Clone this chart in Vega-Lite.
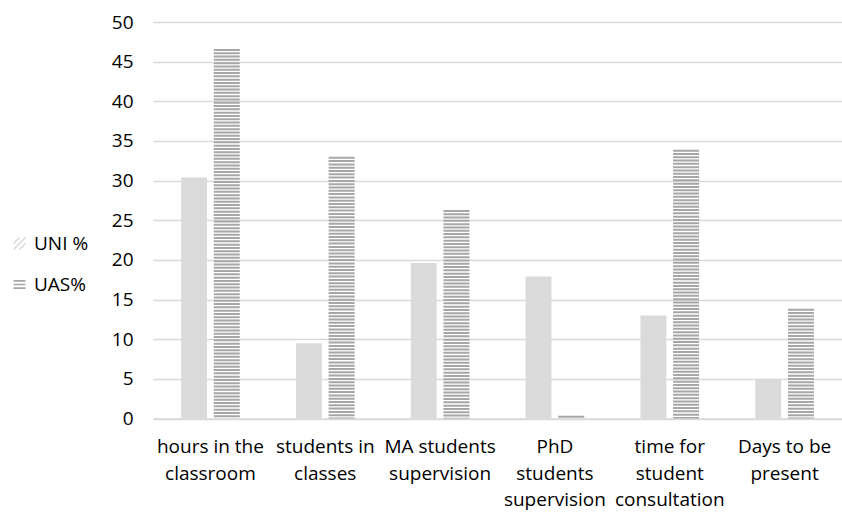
{
  "$schema": "https://vega.github.io/schema/vega-lite/v6.json",
  "autosize": {"type": "none"},
  "width": 689,
  "height": 396.5,
  "padding": {"left": 153, "top": 22, "right": 0, "bottom": 93.5},
  "config": {"view": {"stroke": null}, "font": "Open Sans"},
  "data": {
    "values": [
      {"category": "hours in the classroom", "series": "UNI %", "value": 30.4},
      {"category": "hours in the classroom", "series": "UAS%", "value": 46.6},
      {"category": "students in classes", "series": "UNI %", "value": 9.5},
      {"category": "students in classes", "series": "UAS%", "value": 33.0},
      {"category": "MA students supervision", "series": "UNI %", "value": 19.6},
      {"category": "MA students supervision", "series": "UAS%", "value": 26.3},
      {"category": "PhD students supervision", "series": "UNI %", "value": 17.9},
      {"category": "PhD students supervision", "series": "UAS%", "value": 0.35},
      {"category": "time for student consultation", "series": "UNI %", "value": 13.0},
      {"category": "time for student consultation", "series": "UAS%", "value": 33.9},
      {"category": "Days to be present", "series": "UNI %", "value": 5.0},
      {"category": "Days to be present", "series": "UAS%", "value": 13.85}
    ]
  },
  "encoding": {
    "x": {
      "field": "category",
      "type": "nominal",
      "sort": ["hours in the classroom", "students in classes", "MA students supervision", "PhD students supervision", "time for student consultation", "Days to be present"],
      "scale": {"paddingInner": 0.49, "paddingOuter": 0.245},
      "axis": {
        "title": null,
        "labelAngle": 0,
        "labelFontSize": 19,
        "labelColor": "#000000",
        "labelLineHeight": 26.5,
        "labelPadding": 19,
        "labelLimit": 0,
        "labelOverlap": false,
        "labelBound": false,
        "ticks": false,
        "tickSize": 0,
        "domainColor": "#d9d9d9",
        "domainWidth": 1.3,
        "labelExpr": "datum.value == 'hours in the classroom' ? ['hours in the','classroom'] : datum.value == 'students in classes' ? ['students in','classes'] : datum.value == 'MA students supervision' ? ['MA students','supervision'] : datum.value == 'PhD students supervision' ? ['PhD','students','supervision'] : datum.value == 'time for student consultation' ? ['time for','student','consultation'] : ['Days to be','present']"
      }
    },
    "xOffset": {
      "field": "series",
      "type": "nominal",
      "sort": ["UNI %", "UAS%"],
      "scale": {"paddingInner": 0.21, "paddingOuter": 0}
    },
    "y": {
      "field": "value",
      "type": "quantitative",
      "scale": {"domain": [0, 50], "nice": false},
      "axis": {
        "title": null,
        "values": [0, 5, 10, 15, 20, 25, 30, 35, 40, 45, 50],
        "labelFontSize": 19,
        "labelColor": "#000000",
        "labelPadding": 20,
        "ticks": false,
        "tickSize": 0,
        "domain": false,
        "gridColor": "#d9d9d9",
        "gridWidth": 1.3
      }
    },
    "color": {
      "field": "series",
      "type": "nominal",
      "sort": ["UNI %", "UAS%"],
      "scale": {"domain": ["UNI %", "UAS%"], "range": ["#dadada", "#a6a6a6"]},
      "legend": {
        "title": null,
        "orient": "none",
        "legendX": -143,
        "legendY": 212,
        "padding": 0,
        "labelFontSize": 19,
        "labelColor": "#000000",
        "labelOffset": 5,
        "rowPadding": 21,
        "symbolSize": 144,
        "encode": {
          "symbols": {
            "update": {
              "shape": {"signal": "datum.value === 'UNI %' ? 'M-1,0L0,-1M-1,1L1,-1M0,1L1,0' : 'M-1,-0.6L1,-0.6M-1,0L1,0M-1,0.6L1,0.6'"},
              "fill": {"value": "transparent"},
              "stroke": {"value": "#a6a6a6"},
              "strokeWidth": {"value": 1.6},
              "strokeDash": {"value": [1, 0]},
              "opacity": {"value": 1}
            }
          }
        }
      }
    }
  },
  "layer": [
    {
      "transform": [{"filter": "datum.series === 'UNI %'"}],
      "mark": {"type": "bar"}
    },
    {
      "transform": [{"filter": "datum.series === 'UAS%'"}],
      "mark": {"type": "rule", "strokeWidth": 26, "strokeDash": [2, 1.3], "strokeCap": "butt"},
      "encoding": {"y2": {"datum": 0}}
    }
  ]
}
